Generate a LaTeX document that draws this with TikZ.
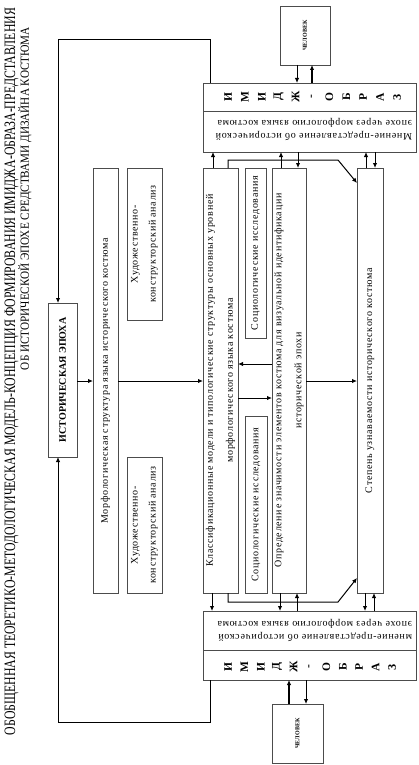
\documentclass[tikz,border=0pt]{standalone}
\usepackage{fontspec}
\usepackage{graphicx}
\setmainfont{Liberation Serif}
\newfontfamily\spaced[LetterSpace=7]{Liberation Serif}
\usetikzlibrary{arrows.meta}
\begin{document}
\begin{tikzpicture}[x=1pt,y=-1pt,
  box/.style={draw=black!70,line width=0.8pt,inner sep=0pt,outer sep=0pt},
  lbl/.style={font=\spaced\fontsize{10}{20}\selectfont,align=center,rotate=90,inner sep=0pt},
  arr/.style={-{Latex[length=5pt,width=4.5pt]},line width=1pt,black},
  warr/.style={arr,line width=1.6pt},
  let/.style={font=\bfseries\fontsize{11.5}{11.5}\selectfont,rotate=90,inner sep=0pt},
  ttl/.style={rotate=90,inner sep=0pt},
  imtxt/.style={font=\spaced\fontsize{10}{12.5}\selectfont,align=left,text width=207pt,rotate=180,inner sep=0pt}
]
\useasboundingbox (0,0) rectangle (418,765);
\fill[white] (0,0) rectangle (418,765);

% title
\node[ttl] (t1) at (11.5,371.5) {\resizebox{727pt}{10.5pt}{ОБОБЩЕННАЯ ТЕОРЕТИКО-МЕТОДОЛОГИЧЕСКАЯ МОДЕЛЬ-КОНЦЕПЦИЯ ФОРМИРОВАНИЯ ИМИДЖА-ОБРАЗА-ПРЕДСТАВЛЕНИЯ}};
\node[ttl] (t2) at (25,198.5) {\resizebox{343pt}{10.5pt}{ОБ ИСТОРИЧЕСКОЙ ЭПОХЕ СРЕДСТВАМИ ДИЗАЙНА КОСТЮМА}};

% boxes
\node[box,anchor=north west,minimum width=29pt,minimum height=154pt] (A) at (48,303) {};
\node[box,anchor=north west,minimum width=25pt,minimum height=425pt] (B) at (93,168) {};
\node[box,anchor=north west,minimum width=35pt,minimum height=152pt] (C1) at (127,168) {};
\node[box,anchor=north west,minimum width=35pt,minimum height=136pt] (C2) at (127,457) {};
\node[box,anchor=north west,minimum width=35pt,minimum height=425pt] (D) at (203,168) {};
\node[box,anchor=north west,minimum width=21pt,minimum height=170pt] (E1) at (245,168) {};
\node[box,anchor=north west,minimum width=22pt,minimum height=177pt] (E2) at (245,416) {};
\node[box,anchor=north west,minimum width=34pt,minimum height=425pt] (F) at (272,168) {};
\node[box,anchor=north west,minimum width=26pt,minimum height=425pt] (G) at (357,168) {};
\node[box,anchor=north west,minimum width=213pt,minimum height=69pt] (IT) at (203,83) {};
\node[box,anchor=north west,minimum width=213pt,minimum height=69pt] (IB) at (203,611) {};
\node[box,anchor=north west,minimum width=50pt,minimum height=59pt] (HT) at (280,6) {};
\node[box,anchor=north west,minimum width=51pt,minimum height=59pt] (HB) at (272,704) {};

\draw[box] (IT.west |- 0,111) -- (IT.east |- 0,111);
\draw[box] (IB.west |- 0,650) -- (IB.east |- 0,650);

% texts
\node[lbl,font=\bfseries\fontsize{10}{12}\selectfont] (At) at (A) {ИСТОРИЧЕСКАЯ ЭПОХА};
\node[lbl] (Bt) at (B) {Морфологическая структура языка исторического костюма};
\node[lbl,font=\spaced\fontsize{10}{18}\selectfont] (C1t) at (C1) {Художественно-\\конструкторский анализ};
\node[lbl,font=\spaced\fontsize{10}{18}\selectfont] (C2t) at (C2) {Художественно-\\конструкторский анализ};
\node[lbl] (Dt) at (D) {Классификационные модели и типологические структуры основных уровней\\морфологического языка костюма};
\node[lbl] (E1t) at (E1) {Социологические исследования};
\node[lbl] (E2t) at (E2) {Социологические исследования};
\node[lbl] (Ft) at (F) {Определение значимости элементов костюма для визуальной идентификации\\исторической эпохи};
\node[lbl] (Gt) at (G) {Степень узнаваемости исторического костюма};
\node[lbl,font=\bfseries\fontsize{6}{7}\selectfont] (HTt) at (HT) {ЧЕЛОВЕК};
\node[lbl,font=\bfseries\fontsize{6}{7}\selectfont] (HBt) at (HB) {ЧЕЛОВЕК};
\node[imtxt] (ITt) at (308.5,129.5) {Мнение-представление об исторической\\эпохе через морфологию языка костюма};
\node[imtxt] (IBt) at (308.5,630.5) {мнение-представление об исторической\\эпохе через морфологию языка костюма};
\foreach \ch [count=\i from 0] in {И,М,И,Д,Ж,-,О,Б,Р,А,З}{
  \node[let] (lt\i) at ({228+\i*16.9},97) {\ch};
  \node[let] (lb\i) at ({228+\i*16.4},667) {\ch};
}

% connectors
\draw[arr] (297,0 |- HT.south) -- (297,0 |- IT.north);
\draw[warr] (312,0 |- IT.north) -- (312,0 |- HT.south);
\draw[warr] (289,0 |- HB.north) -- (289,0 |- IB.south);
\draw[arr] (306,0 |- IB.south) -- (306,0 |- HB.north);

\draw[arr] (210,0 |- IT.north) -- (210,40) -- (58,40) -- (58,0 |- A.north);
\draw[arr] (210,0 |- IB.south) -- (210,722) -- (58,722) -- (58,0 |- A.south);

\draw[arr] (A.east |- 0,381) -- (B.west |- 0,381);
\draw[arr] (B.east |- 0,381) -- (D.west |- 0,381);
\draw[arr] (D.east |- 0,398) -- (F.west |- 0,398);
\draw[arr] (F.west |- 0,364) -- (D.east |- 0,364);
\draw[arr] (F.east |- 0,381) -- (G.west |- 0,381);

\draw[arr] (213,0 |- D.north) -- (213,0 |- IT.south);
\draw[arr] (281,0 |- F.north) -- (281,0 |- IT.south);
\draw[arr] (298,0 |- IT.south) -- (298,0 |- F.north);
\draw[arr] (366,0 |- G.north) -- (366,0 |- IT.south);
\draw[arr] (375,0 |- IT.south) -- (375,0 |- G.north);

\draw[arr] (212,0 |- D.south) -- (212,0 |- IB.north);
\draw[arr] (280,0 |- F.south) -- (280,0 |- IB.north);
\draw[arr] (297,0 |- IB.north) -- (297,0 |- F.south);
\draw[arr] (365,0 |- G.south) -- (365,0 |- IB.north);
\draw[arr] (374,0 |- IB.north) -- (374,0 |- G.south);

\draw[arr] (228,0 |- D.north) -- (228,160) -- (338,160) -- (G.west |- 0,183);
\draw[arr] (228,0 |- D.south) -- (228,602) -- (338,602) -- (G.west |- 0,578);
\end{tikzpicture}
\end{document}
